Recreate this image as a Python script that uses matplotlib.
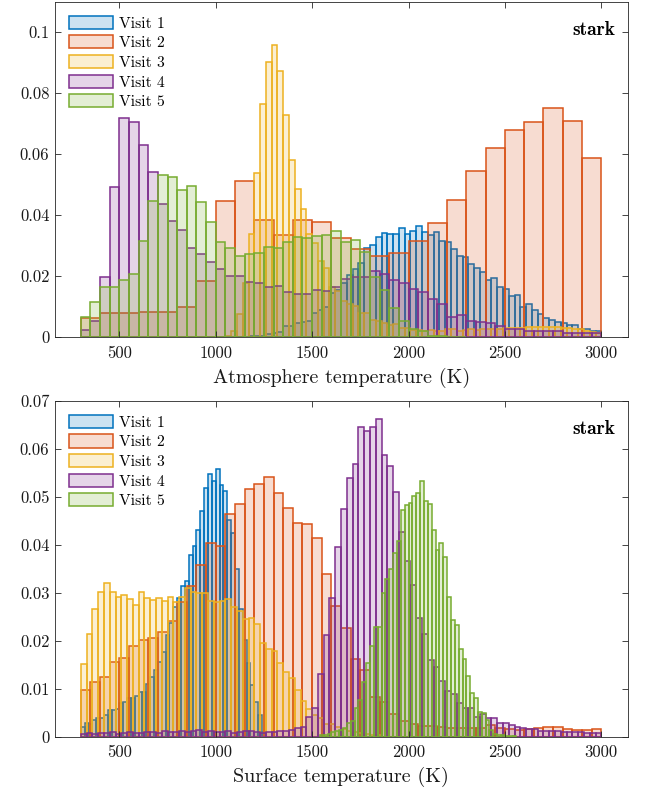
import matplotlib
matplotlib.use("Agg")
import matplotlib.pyplot as plt
import numpy as np

plt.rcParams['font.family'] = 'cmr10'
plt.rcParams['axes.formatter.use_mathtext'] = True

colors = [(0, 0.447, 0.741), (0.85, 0.325, 0.098), (0.929, 0.694, 0.125),
          (0.494, 0.184, 0.556), (0.466, 0.674, 0.188)]
labels = ['Visit 1', 'Visit 2', 'Visit 3', 'Visit 4', 'Visit 5']

# ---- atmosphere temperature: (first bin edge, bin width, probabilities)
atm_v1 = (1170, 30, [0.0003, 0.0004, 0.0005, 0.0012, 0.0013, 0.0018, 0.0037, 0.0038, 0.0048, 0.0050,
                     0.0053, 0.0078, 0.0089, 0.0100, 0.0144, 0.0155, 0.0179, 0.0205, 0.0225, 0.0245,
                     0.0291, 0.0304, 0.0329, 0.0342, 0.0337, 0.0340, 0.0359, 0.0337, 0.0349, 0.0365,
                     0.0346, 0.0335, 0.0344, 0.0316, 0.0311, 0.0289, 0.0266, 0.0264, 0.0239, 0.0226,
                     0.0215, 0.0188, 0.0195, 0.0166, 0.0157, 0.0135, 0.0138, 0.0098, 0.0108, 0.0089,
                     0.0076, 0.0064, 0.0057, 0.0050, 0.0048, 0.0039, 0.0039, 0.0026, 0.0026, 0.0019,
                     0.0019])
atm_v2 = (300, 100, [0.0062, 0.0079, 0.0079, 0.0084, 0.0084, 0.0100, 0.0185, 0.0446, 0.0512, 0.0384,
                     0.0335, 0.0384, 0.0378, 0.0324, 0.0288, 0.0266, 0.0277, 0.0316, 0.0376, 0.0449,
                     0.0544, 0.0622, 0.0680, 0.0706, 0.0750, 0.0709, 0.0586])
atm_v3 = (1050, 30, [0.0004, 0.0022, 0.0075, 0.0177, 0.0337, 0.0537, 0.0763, 0.0902, 0.0957, 0.0873,
                     0.0730, 0.0580, 0.0485, 0.0419, 0.0338, 0.0310, 0.0251, 0.0228, 0.0166, 0.0153,
                     0.0120, 0.0108, 0.0102, 0.0079, 0.0079, 0.0057, 0.0055, 0.0046, 0.0040, 0.0042,
                     0.0031, 0.0030, 0.0025, 0.0023, 0.0022, 0.0024, 0.0022, 0.0022, 0.0026, 0.0026,
                     0.0022, 0.0025, 0.0027, 0.0025, 0.0028, 0.0026, 0.0028, 0.0027, 0.0030, 0.0029,
                     0.0032, 0.0032, 0.0033, 0.0034, 0.0035, 0.0034, 0.0035, 0.0033, 0.0032, 0.0030,
                     0.0028, 0.0026, 0.0022, 0.0018, 0.0014])
atm_v4 = (300, 50, [0.0024, 0.0053, 0.0198, 0.0493, 0.0720, 0.0707, 0.0630, 0.0541, 0.0436, 0.0382,
                    0.0353, 0.0291, 0.0273, 0.0247, 0.0225, 0.0201, 0.0201, 0.0181, 0.0177, 0.0166,
                    0.0167, 0.0147, 0.0141, 0.0141, 0.0155, 0.0152, 0.0166, 0.0191, 0.0198, 0.0198,
                    0.0218, 0.0206, 0.0187, 0.0177, 0.0159, 0.0147, 0.0124, 0.0108, 0.0067, 0.0072,
                    0.0054, 0.0050, 0.0046, 0.0037, 0.0026, 0.0026, 0.0021, 0.0021, 0.0021, 0.0020,
                    0.0015, 0.0015, 0.0015, 0.0015])
atm_v5 = (300, 50, [0.0067, 0.0117, 0.0166, 0.0164, 0.0188, 0.0207, 0.0316, 0.0446, 0.0532, 0.0526,
                    0.0482, 0.0495, 0.0444, 0.0378, 0.0311, 0.0291, 0.0267, 0.0272, 0.0275, 0.0297,
                    0.0294, 0.0311, 0.0329, 0.0327, 0.0333, 0.0334, 0.0348, 0.0311, 0.0318, 0.0280,
                    0.0196, 0.0155, 0.0095, 0.0054, 0.0026, 0.0022, 0.0004, 0.0003, 0.0002, 0.0002])

# ---- surface temperature
srf_v1 = (300, 20, [0.0021, 0.0028, 0.0026, 0.0035, 0.0039, 0.0038, 0.0045, 0.0056, 0.0056, 0.0058,
                    0.0070, 0.0072, 0.0081, 0.0080, 0.0085, 0.0094, 0.0093, 0.0110, 0.0125, 0.0139,
                    0.0156, 0.0177, 0.0212, 0.0236, 0.0270, 0.0290, 0.0313, 0.0324, 0.0379, 0.0398,
                    0.0431, 0.0470, 0.0519, 0.0547, 0.0533, 0.0558, 0.0525, 0.0512, 0.0451, 0.0424,
                    0.0349, 0.0266, 0.0201, 0.0153, 0.0108, 0.0073, 0.0045, 0.0010])
srf_v2 = (300, 50, [0.0097, 0.0113, 0.0125, 0.0156, 0.0163, 0.0189, 0.0201, 0.0205, 0.0219, 0.0241,
                    0.0281, 0.0314, 0.0358, 0.0403, 0.0398, 0.0465, 0.0485, 0.0517, 0.0526, 0.0542,
                    0.0507, 0.0477, 0.0445, 0.0443, 0.0413, 0.0340, 0.0273, 0.0226, 0.0161, 0.0138,
                    0.0083, 0.0073, 0.0047, 0.0033, 0.0026, 0.0022, 0.0022, 0.0021, 0.0019, 0.0019,
                    0.0019, 0.0019, 0.0024, 0.0018, 0.0016, 0.0015, 0.0017, 0.0019, 0.0021, 0.0020,
                    0.0016, 0.0014, 0.0014, 0.0016])
srf_v3 = (300, 30, [0.0151, 0.0214, 0.0267, 0.0301, 0.0321, 0.0302, 0.0292, 0.0295, 0.0286, 0.0274,
                    0.0301, 0.0290, 0.0285, 0.0290, 0.0283, 0.0292, 0.0281, 0.0292, 0.0309, 0.0301,
                    0.0299, 0.0299, 0.0283, 0.0281, 0.0283, 0.0286, 0.0271, 0.0262, 0.0245, 0.0248,
                    0.0234, 0.0196, 0.0182, 0.0178, 0.0154, 0.0135, 0.0123, 0.0097, 0.0074, 0.0057,
                    0.0046, 0.0038, 0.0026, 0.0026, 0.0021, 0.0016, 0.0012, 0.0009, 0.0007, 0.0005,
                    0.0004, 0.0003])
srf_v4 = (300, 30, [0.0005, 0.0007, 0.0006, 0.0008, 0.0007, 0.0009, 0.0006, 0.0008, 0.0009, 0.0007,
                    0.0008, 0.0010, 0.0009, 0.0008, 0.0011, 0.0009, 0.0010, 0.0012, 0.0009, 0.0011,
                    0.0015, 0.0010, 0.0011, 0.0009, 0.0010, 0.0011, 0.0008, 0.0010, 0.0012, 0.0011,
                    0.0009, 0.0008, 0.0010, 0.0009, 0.0011, 0.0012, 0.0014, 0.0018, 0.0020, 0.0042,
                    0.0060, 0.0130, 0.0212, 0.0290, 0.0395, 0.0474, 0.0540, 0.0568, 0.0646, 0.0637,
                    0.0645, 0.0661, 0.0587, 0.0565, 0.0510, 0.0427, 0.0367, 0.0316, 0.0248, 0.0213,
                    0.0160, 0.0146, 0.0117, 0.0095, 0.0089, 0.0070, 0.0059, 0.0060, 0.0042, 0.0047,
                    0.0039, 0.0038, 0.0029, 0.0029, 0.0025, 0.0020, 0.0018, 0.0016, 0.0016, 0.0012,
                    0.0011, 0.0011, 0.0011, 0.0010, 0.0010, 0.0009, 0.0009, 0.0008, 0.0008, 0.0007])
srf_v5 = (1540, 20, [0.0003, 0.0004, 0.0006, 0.0009, 0.0012, 0.0015, 0.0019, 0.0028, 0.0033, 0.0060,
                     0.0076, 0.0113, 0.0154, 0.0188, 0.0229, 0.0229, 0.0300, 0.0328, 0.0349, 0.0383,
                     0.0408, 0.0472, 0.0483, 0.0486, 0.0502, 0.0507, 0.0533, 0.0491, 0.0484, 0.0431,
                     0.0389, 0.0403, 0.0374, 0.0292, 0.0243, 0.0233, 0.0183, 0.0162, 0.0126, 0.0092,
                     0.0080, 0.0051, 0.0049, 0.0035, 0.0014, 0.0006, 0.0004, 0.0003, 0.0002, 0.0002,
                     0.0001])

atm = [atm_v1, atm_v2, atm_v3, atm_v4, atm_v5]
srf = [srf_v1, srf_v2, srf_v3, srf_v4, srf_v5]


def draw_hist(ax, series):
    for (start, width, probs), c, lab in zip(series, colors, labels):
        probs = np.array(probs)
        left = start + width * np.arange(len(probs))
        ax.bar(left, probs, width=width, align='edge', facecolor=(*c, 0.2),
               edgecolor=c, linewidth=1.1, label=lab)


def style(ax, yticks, ylabels, ymax, xlabel):
    ax.set_xlim(166, 3137)
    ax.set_ylim(0, ymax)
    ax.set_xticks([500, 1000, 1500, 2000, 2500, 3000])
    ax.set_xticklabels(['500', '1000', '1500', '2000', '2500', '3000'])
    ax.set_yticks(yticks)
    ax.set_yticklabels(ylabels)
    ax.tick_params(direction='in', top=True, right=True, length=4, width=0.6,
                   labelsize=12, color='0.15', labelcolor='0.1')
    ax.tick_params(axis='x', pad=6)
    ax.tick_params(axis='y', pad=4)
    for s in ax.spines.values():
        s.set_color('0.15')
        s.set_linewidth(0.6)
    ax.set_xlabel(xlabel, fontsize=14.5, color='0.1', labelpad=5)
    ax.text(0.978, 0.915, 'stark', transform=ax.transAxes, ha='right', va='center',
            fontsize=14, family='cmb10')
    ax.legend(loc='upper left', frameon=False, fontsize=11.3, handlelength=2.8,
              handleheight=0.9, handletextpad=0.35, labelspacing=0.3,
              borderaxespad=0.45, borderpad=0.45)


fig = plt.figure(figsize=(6.49, 7.91), dpi=100)
ax1 = fig.add_axes([0.0847, 0.5736, 0.8825, 0.4243])
ax2 = fig.add_axes([0.0847, 0.0686, 0.8825, 0.4248])

draw_hist(ax1, atm)
style(ax1, [0, 0.02, 0.04, 0.06, 0.08, 0.1], ['0', '0.02', '0.04', '0.06', '0.08', '0.1'],
      0.11, 'Atmosphere temperature (K)')

draw_hist(ax2, srf)
style(ax2, [0, 0.01, 0.02, 0.03, 0.04, 0.05, 0.06, 0.07],
      ['0', '0.01', '0.02', '0.03', '0.04', '0.05', '0.06', '0.07'],
      0.07, 'Surface temperature (K)')

fig.savefig('out.png', dpi=100)
